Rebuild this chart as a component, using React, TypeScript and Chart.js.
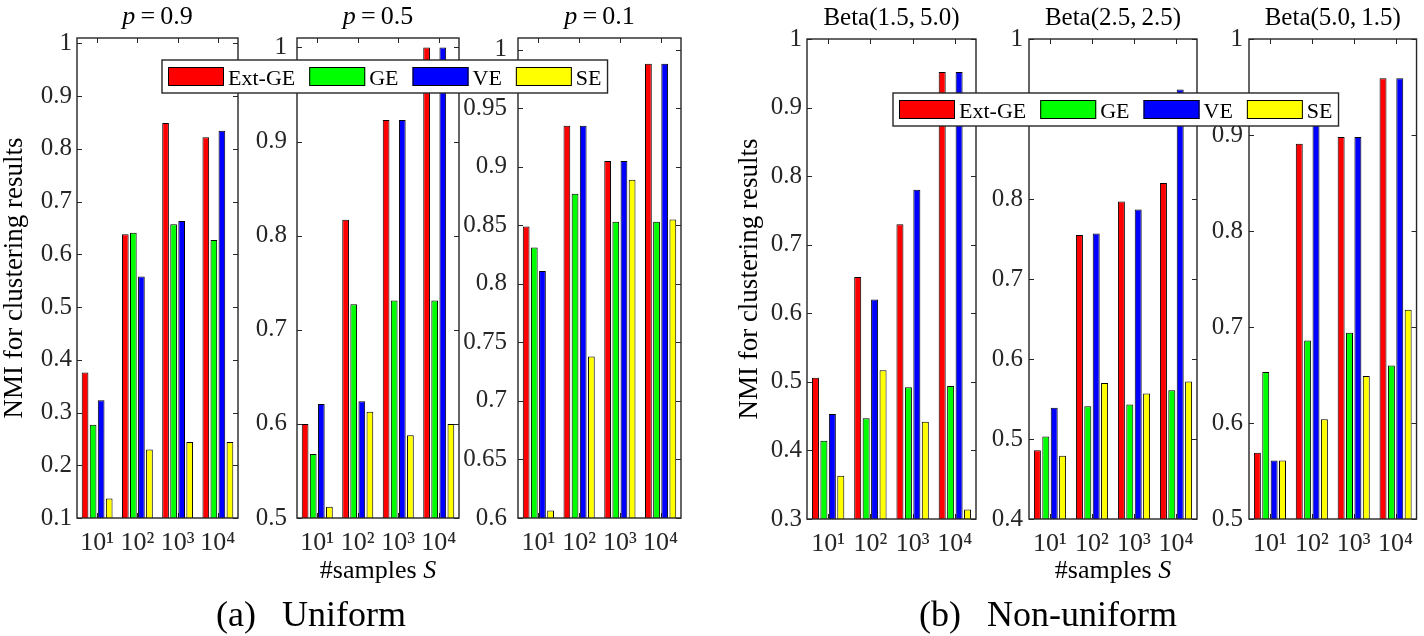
import React, { useEffect, useRef } from 'react';
import { Chart, registerables } from 'chart.js';

Chart.register(...registerables);

const W = 1424;
const H = 636;

// ---------------- data ----------------
const CATEGORIES = ['10¹', '10²', '10³', '10⁴'];
const SERIES_NAMES = ['Ext-GE', 'GE', 'VE', 'SE'];
const SERIES_COLORS = ['#ff0000', '#00ff00', '#0000ff', '#ffff00'];

// (a) Uniform, p = 0.9
const P09_EXTGE = [0.376, 0.638, 0.849, 0.822];
const P09_GE = [0.277, 0.641, 0.657, 0.627];
const P09_VE = [0.323, 0.558, 0.663, 0.834];
const P09_SE = [0.137, 0.23, 0.244, 0.244];

// (a) Uniform, p = 0.5
const P05_EXTGE = [0.6, 0.817, 0.923, 1.0];
const P05_GE = [0.568, 0.727, 0.731, 0.731];
const P05_VE = [0.621, 0.624, 0.923, 1.0];
const P05_SE = [0.512, 0.613, 0.588, 0.6];

// (a) Uniform, p = 0.1
const P01_EXTGE = [0.849, 0.935, 0.905, 0.988];
const P01_GE = [0.831, 0.877, 0.853, 0.853];
const P01_VE = [0.811, 0.935, 0.905, 0.988];
const P01_SE = [0.6065, 0.738, 0.889, 0.855];

// (b) Non-uniform, Beta(1.5, 5.0)
const B15_EXTGE = [0.506, 0.653, 0.73, 0.952];
const B15_GE = [0.414, 0.447, 0.492, 0.494];
const B15_VE = [0.453, 0.62, 0.78, 0.952];
const B15_SE = [0.363, 0.517, 0.442, 0.314];

// (b) Non-uniform, Beta(2.5, 2.5)
const B25_EXTGE = [0.486, 0.755, 0.797, 0.82];
const B25_GE = [0.503, 0.541, 0.543, 0.561];
const B25_VE = [0.539, 0.757, 0.787, 0.937];
const B25_SE = [0.479, 0.57, 0.557, 0.572];

// (b) Non-uniform, Beta(5.0, 1.5)
const B50_EXTGE = [0.569, 0.891, 0.898, 0.959];
const B50_GE = [0.653, 0.686, 0.694, 0.66];
const B50_VE = [0.561, 0.925, 0.898, 0.959];
const B50_SE = [0.561, 0.604, 0.649, 0.718];

// y tick labels
const Y_TICKS_P09 = [0.1, 0.2, 0.3, 0.4, 0.5, 0.6, 0.7, 0.8, 0.9, 1];
const Y_TICKS_P05 = [0.5, 0.6, 0.7, 0.8, 0.9, 1];
const Y_TICKS_P01 = [0.6, 0.65, 0.7, 0.75, 0.8, 0.85, 0.9, 0.95, 1];
const Y_TICKS_B15 = [0.3, 0.4, 0.5, 0.6, 0.7, 0.8, 0.9, 1];
const Y_TICKS_B25 = [0.4, 0.5, 0.6, 0.7, 0.8, 0.9, 1];
const Y_TICKS_B50 = [0.5, 0.6, 0.7, 0.8, 0.9, 1];

// texts
const Y_LABEL = 'NMI for clustering results';
const X_LABEL = '#samples ';
const X_LABEL_VAR = 'S';
const CAPTION_A = ['(a)', 'Uniform'];
const CAPTION_B = ['(b)', 'Non-uniform'];

// ---------------- styling ----------------
const AXIS_COLOR = '#262626';
const SERIF = '"Liberation Serif", "Times New Roman", serif';
const XH = 50;
const TICK = 5;

type Part = { text: string; italic?: boolean };

type PanelCfg = {
  key: string;
  title: Part[];
  titleSize: number;
  titleBaseline: number;
  series: number[][];
  yMin: number;
  yMax: number;
  yTicks: number[];
  area: { left: number; right: number; top: number; bottom: number };
  yPad: number;
  yTitleLeft?: number;
  xLabel?: boolean;
  caption?: { parts: string[]; cx: number };
  legend?: { left: number; top: number };
};

const PANELS: PanelCfg[] = [
  {
    key: 'p09',
    title: [{ text: 'p', italic: true }, { text: '\u2009=\u20090.9' }],
    titleSize: 26,
    titleBaseline: 24,
    series: [P09_EXTGE, P09_GE, P09_VE, P09_SE],
    yMin: 0.1,
    yMax: 1.01,
    yTicks: Y_TICKS_P09,
    area: { left: 77, right: 238, top: 38, bottom: 518 },
    yPad: 5,
    yTitleLeft: 0,
  },
  {
    key: 'p05',
    title: [{ text: 'p', italic: true }, { text: '\u2009=\u20090.5' }],
    titleSize: 26,
    titleBaseline: 24,
    series: [P05_EXTGE, P05_GE, P05_VE, P05_SE],
    yMin: 0.5,
    yMax: 1.01,
    yTicks: Y_TICKS_P05,
    area: { left: 297, right: 459, top: 38, bottom: 518 },
    yPad: 10,
    xLabel: true,
    caption: { parts: CAPTION_A, cx: 311 },
    legend: { left: 162, top: 60 },
  },
  {
    key: 'p01',
    title: [{ text: 'p', italic: true }, { text: '\u2009=\u20090.1' }],
    titleSize: 26,
    titleBaseline: 24,
    series: [P01_EXTGE, P01_GE, P01_VE, P01_SE],
    yMin: 0.6,
    yMax: 1.01,
    yTicks: Y_TICKS_P01,
    area: { left: 518, right: 681, top: 38, bottom: 518 },
    yPad: 11,
  },
  {
    key: 'b15',
    title: [{ text: 'Beta(1.5,\u20095.0)' }],
    titleSize: 25,
    titleBaseline: 25,
    series: [B15_EXTGE, B15_GE, B15_VE, B15_SE],
    yMin: 0.3,
    yMax: 1,
    yTicks: Y_TICKS_B15,
    area: { left: 807, right: 976, top: 39, bottom: 519 },
    yPad: 5,
    yTitleLeft: 735,
  },
  {
    key: 'b25',
    title: [{ text: 'Beta(2.5,\u20092.5)' }],
    titleSize: 25,
    titleBaseline: 25,
    series: [B25_EXTGE, B25_GE, B25_VE, B25_SE],
    yMin: 0.4,
    yMax: 1,
    yTicks: Y_TICKS_B25,
    area: { left: 1029, right: 1197, top: 39, bottom: 519 },
    yPad: 6,
    xLabel: true,
    caption: { parts: CAPTION_B, cx: 1048 },
    legend: { left: 893, top: 93 },
  },
  {
    key: 'b50',
    title: [{ text: 'Beta(5.0,\u20091.5)' }],
    titleSize: 25,
    titleBaseline: 25,
    series: [B50_EXTGE, B50_GE, B50_VE, B50_SE],
    yMin: 0.5,
    yMax: 1,
    yTicks: Y_TICKS_B50,
    area: { left: 1249, right: 1417, top: 39, bottom: 519 },
    yPad: 6,
  },
];

function drawParts(ctx: CanvasRenderingContext2D, parts: Part[], cx: number, baseline: number, size: number, family: string, gap = 0) {
  const fonts = parts.map((p) => `${p.italic ? 'italic ' : ''}${size}px ${family}`);
  const widths = parts.map((p, i) => {
    ctx.font = fonts[i];
    return ctx.measureText(p.text).width;
  });
  const total = widths.reduce((a, b) => a + b, 0) + gap * (parts.length - 1);
  let x = cx - total / 2;
  ctx.textAlign = 'left';
  ctx.textBaseline = 'alphabetic';
  parts.forEach((p, i) => {
    ctx.font = fonts[i];
    ctx.fillText(p.text, x, baseline);
    x += widths[i] + gap;
  });
}

function makeDecor(p: PanelCfg) {
  return {
    id: 'decor_' + p.key,
    beforeDatasetsDraw(chart: any) {
      // bottom tick marks lie under the bars (MATLAB layer = bottom)
      const { ctx, chartArea: a, scales } = chart;
      const xs = scales.x;
      ctx.save();
      ctx.strokeStyle = AXIS_COLOR;
      ctx.lineWidth = 1;
      ctx.beginPath();
      xs.ticks.forEach((_t: any, i: number) => {
        const px = Math.round(xs.getPixelForTick(i)) + 0.5;
        ctx.moveTo(px, a.bottom);
        ctx.lineTo(px, a.bottom - TICK);
      });
      ctx.stroke();
      ctx.restore();
    },
    afterDatasetsDraw(chart: any) {
      const { ctx, chartArea: a, scales } = chart;
      const xs = scales.x;
      const ys = scales.y;
      ctx.save();
      ctx.strokeStyle = AXIS_COLOR;
      ctx.lineWidth = 1;
      ctx.beginPath();
      ys.ticks.forEach((t: any) => {
        const py = Math.round(ys.getPixelForValue(t.value)) + 0.5;
        ctx.moveTo(a.left, py);
        ctx.lineTo(a.left + TICK, py);
        ctx.moveTo(a.right, py);
        ctx.lineTo(a.right - TICK, py);
      });
      xs.ticks.forEach((_t: any, i: number) => {
        const px = Math.round(xs.getPixelForTick(i)) + 0.5;
        ctx.moveTo(px, a.top);
        ctx.lineTo(px, a.top + TICK);
      });
      ctx.stroke();
      ctx.lineWidth = 1.4;
      ctx.strokeRect(a.left, a.top, a.right - a.left, a.bottom - a.top);
      ctx.restore();
    },
    afterDraw(chart: any) {
      const { ctx, chartArea: a } = chart;
      const cx = (a.left + a.right) / 2;
      ctx.save();
      ctx.fillStyle = '#000';
      drawParts(ctx, p.title, cx, p.titleBaseline, p.titleSize, SERIF);
      if (p.xLabel) {
        drawParts(ctx, [{ text: X_LABEL }, { text: X_LABEL_VAR, italic: true }], cx, 578, 26, SERIF);
      }
      if (p.caption) {
        drawParts(ctx, p.caption.parts.map((t) => ({ text: t })), p.caption.cx, 626, 36, SERIF, 26);
      }
      if (p.legend) {
        const { left, top } = p.legend;
        const patchW = 56;
        const patchH = 19;
        const padX = 6;
        const gapText = 4;
        const gapItem = 14;
        const boxH = 33;
        ctx.font = `22px ${SERIF}`;
        const items = chart.data.datasets.map((ds: any) => ({ label: ds.label, color: ds.backgroundColor }));
        const tw = items.map((it: any) => ctx.measureText(it.label).width);
        let total = padX * 2;
        items.forEach((_it: any, i: number) => {
          total += patchW + gapText + tw[i] + (i < items.length - 1 ? gapItem : 0);
        });
        ctx.fillStyle = '#fff';
        ctx.fillRect(left, top, total, boxH);
        ctx.strokeStyle = AXIS_COLOR;
        ctx.lineWidth = 1.4;
        ctx.strokeRect(left, top, total, boxH);
        let x = left + padX;
        items.forEach((it: any, i: number) => {
          ctx.fillStyle = it.color;
          ctx.fillRect(x, top + 7, patchW, patchH);
          ctx.strokeStyle = '#000';
          ctx.lineWidth = 1;
          ctx.strokeRect(x + 0.5, top + 7.5, patchW - 1, patchH - 1);
          ctx.fillStyle = '#000';
          ctx.textAlign = 'left';
          ctx.textBaseline = 'alphabetic';
          ctx.fillText(it.label, x + patchW + gapText, top + 25);
          x += patchW + gapText + tw[i] + gapItem;
        });
      }
      ctx.restore();
    },
  };
}

function fmt(v: number) {
  return String(Number(Number(v).toFixed(3)));
}

function buildConfig(p: PanelCfg): any {
  const YW = p.yTitleLeft !== undefined ? p.area.left - p.yTitleLeft : 60;
  return {
    type: 'bar',
    data: {
      labels: CATEGORIES,
      datasets: SERIES_NAMES.map((name, i) => ({
        label: name,
        data: p.series[i],
        backgroundColor: SERIES_COLORS[i],
        borderColor: '#000',
        borderWidth: 1,
        borderSkipped: false,
        categoryPercentage: 0.8,
        barPercentage: 0.83,
      })),
    },
    options: {
      responsive: false,
      animation: false,
      events: [],
      layout: {
        padding: {
          left: p.area.left - YW,
          right: W - p.area.right,
          top: p.area.top,
          bottom: H - p.area.bottom - XH,
        },
      },
      plugins: {
        legend: { display: false },
        tooltip: { enabled: false },
        title: { display: false },
      },
      scales: {
        x: {
          type: 'category',
          offset: true,
          grid: { display: false, drawTicks: false },
          border: { display: false },
          ticks: {
            font: { family: SERIF, size: 26 },
            color: AXIS_COLOR,
            padding: 10,
            maxRotation: 0,
            autoSkip: false,
          },
          afterFit: (s: any) => {
            s.height = XH;
          },
        },
        y: {
          type: 'linear',
          min: p.yMin,
          max: p.yMax,
          grid: { display: false, drawTicks: false },
          border: { display: false },
          ticks: {
            font: { family: SERIF, size: 25 },
            color: AXIS_COLOR,
            padding: p.yPad,
            callback: (v: any) => fmt(v),
          },
          afterBuildTicks: (s: any) => {
            s.ticks = p.yTicks.map((v) => ({ value: v }));
          },
          afterFit: (s: any) => {
            s.width = YW;
          },
          title:
            p.yTitleLeft !== undefined
              ? {
                  display: true,
                  text: Y_LABEL,
                  color: '#000',
                  font: { family: SERIF, size: 27, lineHeight: 1 },
                  padding: { top: 1, bottom: 0 },
                }
              : { display: false },
        },
      },
    },
    plugins: [makeDecor(p)],
  };
}

function Panel({ cfg }: { cfg: PanelCfg }) {
  const ref = useRef<HTMLCanvasElement>(null);
  useEffect(() => {
    if (!ref.current) return;
    const chart = new Chart(ref.current, buildConfig(cfg));
    return () => chart.destroy();
  }, [cfg]);
  return (
    <canvas
      ref={ref}
      width={W}
      height={H}
      style={{ position: 'absolute', left: 0, top: 0, zIndex: cfg.legend ? 2 : 1 }}
    />
  );
}

export default function App() {
  return (
    <div style={{ position: 'absolute', left: 0, top: 0, width: W, height: H, background: '#fff', overflow: 'hidden' }}>
      {PANELS.map((p) => (
        <Panel key={p.key} cfg={p} />
      ))}
    </div>
  );
}
